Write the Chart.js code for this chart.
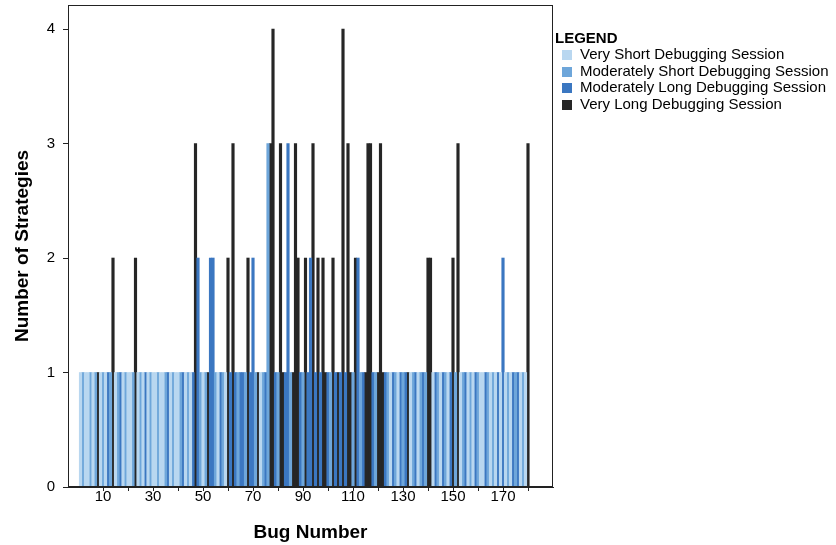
<!DOCTYPE html>
<html>
<head>
<meta charset="utf-8">
<script src="https://cdn.jsdelivr.net/npm/chart.js@4.4.0/dist/chart.umd.min.js"></script>
<style>
  body { margin: 0; background: #fff; font-family: "Liberation Sans", Arial, sans-serif; }
  #wrap { position: relative; width: 836px; height: 545px; }
  #legend { position: absolute; left: 555px; top: 29px; color: #000; }
  #legend .title { font-weight: bold; font-size: 15px; line-height: 17px; }
  #legend .item { font-size: 15px; line-height: 16.5px; white-space: nowrap; }
  #legend .box { display: inline-block; width: 10px; height: 10px; margin: 0 8px 0 7px; vertical-align: -1px; }
</style>
</head>
<body>
<div id="wrap">
  <canvas id="bugChart" width="836" height="545"></canvas>
  <div id="legend"></div>
</div>
<script>
// Session types (legend order) and their colours
const sessionCodes = ['S', 'M', 'L', 'V'];
const sessionLabels = [
  'Very Short Debugging Session',
  'Moderately Short Debugging Session',
  'Moderately Long Debugging Session',
  'Very Long Debugging Session'
];
const sessionColors = ['#b9d7f0', '#6ea6da', '#3b77c1', '#262626'];

// Session type per bug, bugs 1..180 (rows of 10)
const sessions = [
  'S','M','S','S','M','S','M','V','S','M',
  'S','L','M','V','S','M','L','S','M','S',
  'S','M','V','S','M','S','L','S','M','S',
  'S','M','S','S','M','L','S','M','S','S',
  'M','L','S','M','S','L','V','L','M','S',
  'M','V','L','L','M','S','L','M','S','V',
  'L','V','L','M','L','L','M','V','L','L',
  'M','V','S','M','L','M','V','V','L','M',
  'V','V','L','L','M','V','V','V','L','M',
  'V','L','L','V','L','V','L','V','V','L',
  'M','V','L','V','L','V','L','V','V','M',
  'V','L','M','L','V','V','V','L','M','V',
  'V','V','L','M','S','L','M','S','L','M',
  'L','V','S','M','L','S','M','L','M','V',
  'V','S','L','M','S','L','M','S','L','V',
  'M','V','S','M','L','S','M','S','L','M',
  'S','S','L','M','S','M','S','L','S','L',
  'S','M','S','L','M','L','S','M','S','V'
];

// Number of strategies per bug, bugs 1..180 (rows of 10)
const strategies = [
  1,1,1,1,1,1,1,1,1,1,
  1,1,1,2,1,1,1,1,1,1,
  1,1,2,1,1,1,1,1,1,1,
  1,1,1,1,1,1,1,1,1,1,
  1,1,1,1,1,1,3,2,1,1,
  1,1,2,2,1,1,1,1,1,2,
  1,3,1,1,1,1,1,2,1,2,
  1,1,1,1,1,3,3,4,1,1,
  3,1,1,3,1,1,3,2,1,1,
  2,1,2,3,1,2,1,2,1,1,
  1,2,1,1,1,4,1,3,1,1,
  2,2,1,1,1,3,3,1,1,1,
  3,1,1,1,1,1,1,1,1,1,
  1,1,1,1,1,1,1,1,1,2,
  2,1,1,1,1,1,1,1,1,2,
  1,3,1,1,1,1,1,1,1,1,
  1,1,1,1,1,1,1,1,1,2,
  1,1,1,1,1,1,1,1,1,3
];

const bugNumbers = sessions.map((_, i) => i + 1);

const xTicks = [10, 20, 30, 40, 50, 60, 70, 80, 90, 100, 110, 120, 130, 140, 150, 160, 170, 180];
const xTickLabels = ['10', '', '30', '', '50', '', '70', '', '90', '', '110', '', '130', '', '150', '', '170', ''];
const yTicks = [0, 1, 2, 3, 4];

const fontFamily = '"Liberation Sans", Arial, sans-serif';

const datasets = sessionCodes.map((code, k) => ({
  label: sessionLabels[k],
  data: bugNumbers
    .map((bug, i) => sessions[i] === code ? { x: bug, y: strategies[i] } : null)
    .filter(Boolean),
  backgroundColor: sessionColors[k],
  borderWidth: 0,
  barPercentage: 1,
  categoryPercentage: 1,
  grouped: false
}));

// Black box round the plot area
const frame = {
  id: 'frame',
  afterDraw(chart) {
    const { ctx, chartArea: a } = chart;
    ctx.save();
    ctx.strokeStyle = '#222';
    ctx.lineWidth = 1;
    ctx.strokeRect(a.left + 0.5, a.top + 0.5, a.width - 1, a.height - 1);
    ctx.restore();
  }
};

new Chart(document.getElementById('bugChart').getContext('2d'), {
  type: 'bar',
  data: { datasets },
  plugins: [frame],
  options: {
    responsive: false,
    animation: false,
    devicePixelRatio: 1,
    layout: { padding: { left: 0, top: 5, right: 283, bottom: 0 } },
    plugins: { legend: { display: false }, tooltip: { enabled: false } },
    scales: {
      x: {
        type: 'linear',
        min: -4,
        max: 190,
        offset: false,
        afterFit: axis => {
          axis.height = 58;
          axis.paddingLeft = 0;
          axis.paddingRight = 0;
        },
        afterBuildTicks: axis => { axis.ticks = xTicks.map(v => ({ value: v })); },
        grid: { offset: false, drawOnChartArea: false, drawTicks: true, tickLength: 4, color: '#222' },
        border: { display: true, color: '#222' },
        ticks: {
          autoSkip: false,
          maxRotation: 0,
          padding: -3,
          color: '#000',
          font: { family: fontFamily, size: 15 },
          callback: (v, i) => xTickLabels[i]
        },
        title: {
          display: true,
          text: 'Bug Number',
          color: '#000',
          font: { family: fontFamily, size: 19, weight: 'bold' },
          padding: { top: 3, bottom: 1 }
        }
      },
      y: {
        min: 0,
        max: 4.21,
        afterFit: axis => {
          axis.width = 68;
          axis.paddingTop = 0;
          axis.paddingBottom = 0;
        },
        afterBuildTicks: axis => { axis.ticks = yTicks.map(v => ({ value: v })); },
        grid: { drawOnChartArea: false, drawTicks: true, tickLength: 5, color: '#222' },
        border: { display: true, color: '#222' },
        ticks: {
          padding: 8,
          color: '#000',
          font: { family: fontFamily, size: 15 }
        },
        title: {
          display: true,
          text: 'Number of Strategies',
          color: '#000',
          font: { family: fontFamily, size: 19, weight: 'bold' },
          padding: { top: 11, bottom: 10 }
        }
      }
    }
  }
});

// Legend beside the plot
const legend = document.getElementById('legend');
legend.innerHTML = '<div class="title">LEGEND</div>' +
  sessionLabels.map((label, k) =>
    `<div class="item"><span class="box" style="background:${sessionColors[k]}"></span>${label}</div>`
  ).join('');
</script>
</body>
</html>
